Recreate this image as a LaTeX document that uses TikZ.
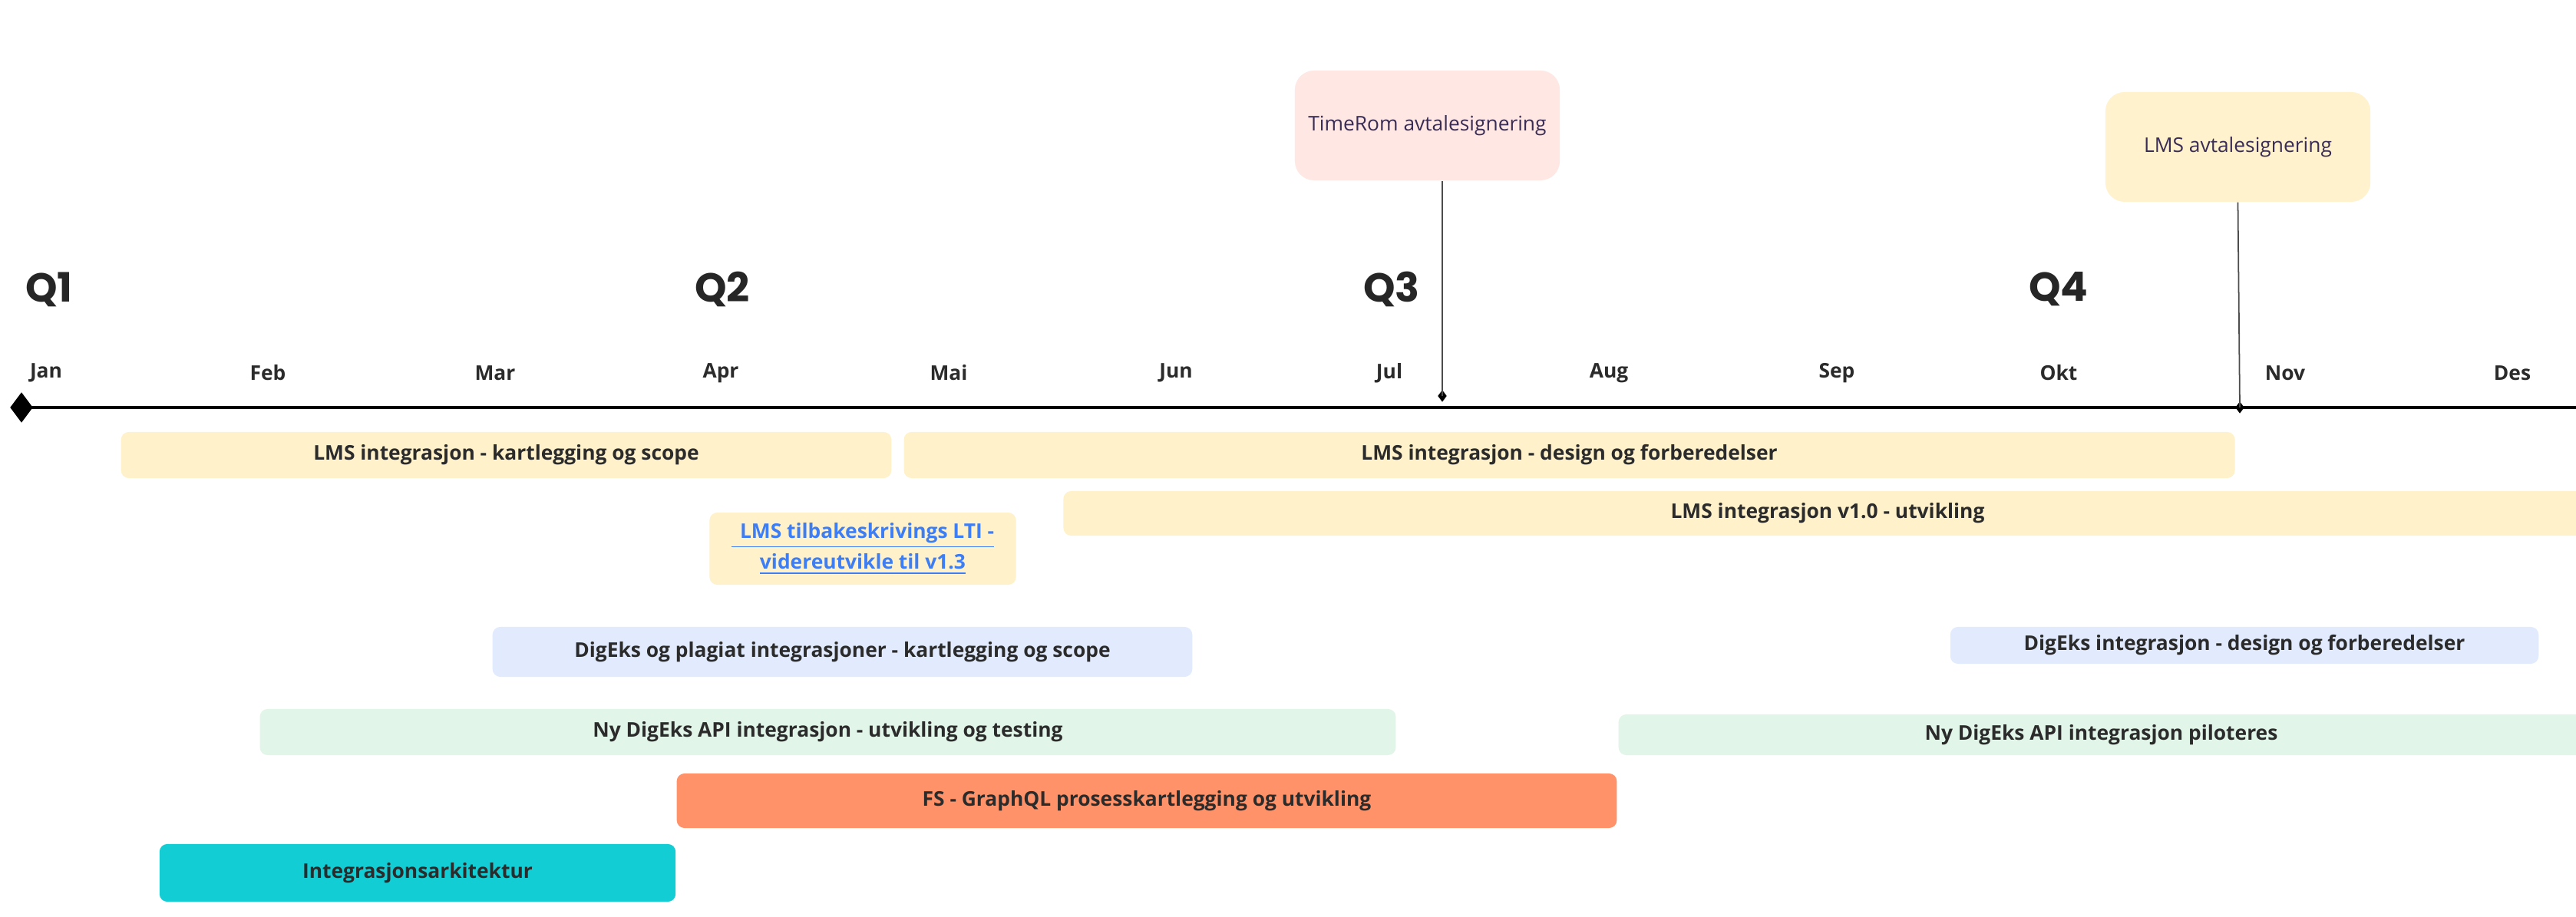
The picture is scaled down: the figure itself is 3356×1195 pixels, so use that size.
\documentclass[tikz,border=0pt]{standalone}
\usepackage{fontspec}
\setmainfont{Open Sans}
\newfontfamily\qfont{Poppins}
\usetikzlibrary{shapes.geometric}

\definecolor{lmsyellow}{HTML}{FFF1C9}
\definecolor{digblue}{HTML}{E1EBFD}
\definecolor{apigreen}{HTML}{E2F5E9}
\definecolor{fsorange}{HTML}{FF9268}
\definecolor{arkcyan}{HTML}{12CDD4}
\definecolor{signpink}{HTML}{FFE7E3}
\definecolor{signyellow}{HTML}{FFF2CC}
\definecolor{linkblue}{HTML}{3D7EF5}
\definecolor{bartext}{HTML}{2B2B2B}
\definecolor{signtext}{HTML}{3A2D55}

\begin{document}
\begin{tikzpicture}[x=0.01cm, y=-0.01cm,
  bar/.style={rounded corners=0.1cm, inner sep=0pt, text=bartext,
    font=\fontsize{7.5}{9.5}\selectfont\bfseries},
  sign/.style={rounded corners=0.25cm, inner sep=0pt, text=signtext,
    font=\fontsize{7.5}{9}\selectfont},
  month/.style={text=bartext, font=\fontsize{7.5}{9}\selectfont\bfseries},
  quarter/.style={text=black!85, font=\qfont\fontsize{15}{18}\selectfont\bfseries},
  tickmark/.style={diamond, fill=black, inner sep=0pt},
  stem/.style={draw=black!70, line width=0.5pt}]

\useasboundingbox[fill=white] (0,0) rectangle (3356,1195);

% quarters and months
\node[quarter] (q1) at (64,377) {Q1};
\node[quarter] (q2) at (941,377) {Q2};
\node[quarter] (q3) at (1813,377) {Q3};
\node[quarter] (q4) at (2682,377) {Q4};

\foreach \m/\x in {Jan/60, Feb/349, Mar/645, Apr/939, Mai/1236, Jun/1532,
  Jul/1810, Aug/2096, Sep/2393, Okt/2682, Nov/2977, Des/3273}
  \node[month] (m-\m) at (\x,486) {\m};

% axis
\node[tickmark, minimum width=0.3cm, minimum height=0.4cm] (start) at (28,531) {};
\draw[line width=1.3pt] (start.center) -- (3356,531);

% milestones
\node[sign, fill=signpink, minimum width=3.45cm, minimum height=1.43cm] (timerom) at (1859.5,163.5) {TimeRom avtalesignering};
\node[tickmark, minimum width=0.12cm, minimum height=0.16cm] (trmark) at (1879,516) {};
\draw[stem] (trmark |- timerom.south) -- (trmark.center);

\node[sign, fill=signyellow, minimum width=3.45cm, minimum height=1.43cm] (lmssign) at (2915.5,191.5) {LMS avtalesignering};
\node[tickmark, minimum width=0.12cm, minimum height=0.16cm] (lmsmark) at (2918,531) {};
\draw[stem] (lmssign.south) -- (lmsmark.center);

% bars
\node[bar, fill=lmsyellow, minimum width=10.03cm, minimum height=0.60cm] (lmsscope) at (659.5,593) {LMS integrasjon - kartlegging og scope};
\node[bar, fill=lmsyellow, minimum width=17.33cm, minimum height=0.60cm] (lmsdesign) at (2044.5,593) {LMS integrasjon - design og forberedelser};
\node[bar, fill=lmsyellow, minimum width=19.90cm, minimum height=0.58cm] (lmsdev) at (2381,669) {LMS integrasjon v1.0 - utvikling};
\node[bar, fill=lmsyellow, minimum width=3.99cm, minimum height=0.94cm, align=center, text=linkblue] (lti) at (1124,715)
  {\underline{\ \,LMS tilbakeskrivings LTI -}\\[2pt]\underline{videreutvikle til v1.3}};
\node[bar, fill=digblue, minimum width=9.11cm, minimum height=0.65cm] (digscope) at (1097.5,849.5) {DigEks og plagiat integrasjoner - kartlegging og scope};
\node[bar, fill=digblue, minimum width=7.66cm, minimum height=0.48cm] (digdesign) at (2924,841) {DigEks integrasjon - design og forberedelser};
\node[bar, fill=apigreen, minimum width=14.79cm, minimum height=0.60cm] (apidev) at (1078.5,954) {Ny DigEks API integrasjon - utvikling og testing};
\node[bar, fill=apigreen, minimum width=12.57cm, minimum height=0.53cm] (apipilot) at (2737.5,957.5) {Ny DigEks API integrasjon piloteres};
\node[bar, fill=fsorange, minimum width=12.24cm, minimum height=0.71cm] (fs) at (1494,1043.5) {FS - GraphQL prosesskartlegging og utvikling};
\node[bar, fill=arkcyan, minimum width=6.72cm, minimum height=0.75cm] (arch) at (544,1137.5) {Integrasjonsarkitektur};

\end{tikzpicture}
\end{document}
